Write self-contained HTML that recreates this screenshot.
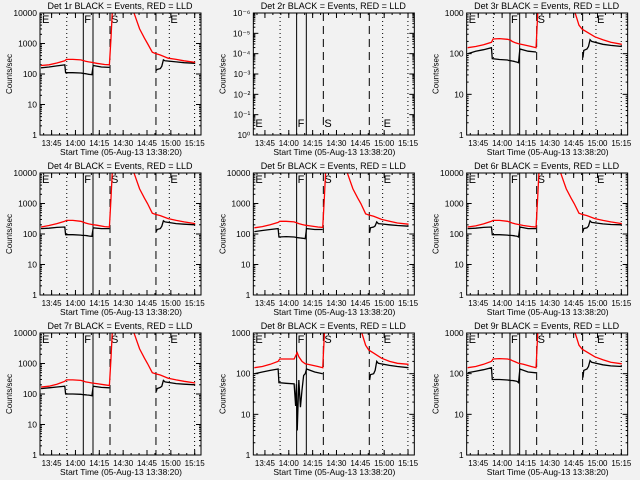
<!DOCTYPE html>
<html><head><meta charset="utf-8">
<style>
html,body{margin:0;padding:0;background:#f2f2f2;}
svg{display:block;font-family:"Liberation Sans",sans-serif;}
</style></head>
<body>
<svg id="chart" width="640" height="480" viewBox="0 0 640 480" xmlns="http://www.w3.org/2000/svg">
<rect width="640" height="480" fill="#f2f2f2"/>
</svg>
<script>
// minutes since 13:38:20
const redTimes = [0,5,10,15,16,20,25,27,28,30,32,35,40,43,44,45,46,50,55,58,60,62,65,67,70,72,75,80,85,90,97];
const blackTimes = [0,5,10,15,15.5,20,25,26,26.5,27,28,29,30,31,32,32.8,38,43,43.5,72.5,73,75,76,77,78,85,90,97];
const detNames = ["1r","2r","3r","4r","5r","6r","7r","8r","9r"];
const yMaxDecades = [4,null,3,4,4,4,4,3,3];
const red1 = [190,200,230,270,300,300,290,270,260,250,240,225,205,200,1500,15000,40000,60000,40000,12000,6000,3000,1500,1000,520,470,420,330,300,270,240];
const red3 = [140,150,165,190,230,235,225,215,200,185,175,165,150,140,900,9000,30000,50000,40000,20000,10000,5000,2000,1200,500,400,340,260,220,190,170];
const red4 = [170,190,220,260,280,280,260,240,230,215,205,195,175,170,1500,15000,40000,60000,40000,12000,6000,3000,1500,1000,480,440,400,320,280,250,220];
const red5 = [160,175,200,240,260,260,250,230,220,205,195,185,170,165,1500,15000,40000,60000,40000,12000,6000,3000,1500,1000,460,420,380,300,260,230,210];
const red6 = [170,185,215,260,280,280,260,240,230,215,205,190,175,170,1500,15000,40000,60000,40000,12000,6000,3000,1500,1000,480,440,400,320,280,250,220];
const red7 = [170,180,210,260,290,290,280,260,250,240,230,220,200,190,1500,15000,40000,60000,40000,12000,6000,3000,1500,1000,500,460,420,330,290,260,230];
const red8 = [140,150,170,200,230,230,230,330,260,200,175,165,150,140,900,9000,30000,50000,40000,20000,10000,5000,2000,1200,500,380,320,240,200,180,170];
const red9 = [140,150,170,200,230,235,230,220,210,195,180,170,150,140,900,9000,30000,50000,40000,20000,10000,5000,2000,1200,500,400,340,260,220,190,175];
const black1 = [160,170,185,200,110,110,108,106,105,104,102,100,98,96,95,190,170,165,null,130,140,150,180,290,270,250,235,225];
const black3 = [100,115,125,140,75,72,70,68,68,67,66,65,63,62,60,130,115,110,null,80,120,130,150,220,200,170,160,150];
const black4 = [150,155,165,170,95,95,92,90,90,90,89,88,86,85,84,160,150,150,null,120,140,150,180,270,250,220,210,200];
const black5 = [120,130,140,150,80,82,80,78,77,76,75,74,73,72,70,150,140,140,null,110,160,170,185,250,220,200,190,180];
const black6 = [150,155,165,170,95,95,92,90,90,90,89,88,86,85,80,170,150,150,null,120,150,160,180,270,240,215,205,200];
const black7 = [150,160,170,180,100,100,98,96,95,95,94,93,92,90,88,180,165,160,null,120,150,165,180,280,250,220,210,200];
const black8 = [100,110,120,130,60,58,56,16,55,4,70,15,40,90,100,130,110,100,null,70,95,100,120,200,180,160,150,140];
const black9 = [105,115,125,140,72,72,70,69,69,68,68,67,66,65,60,130,110,105,null,80,120,130,150,210,190,165,155,150];
const redSeries = [red1,null,red3,red4,red5,red6,red7,red8,red9];
const blackSeries = [black1,null,black3,black4,black5,black6,black7,black8,black9];
const xTickLabels = ["13:45","14:00","14:15","14:30","14:45","15:00","15:15"];
const xTickMinutes = [6.667,21.667,36.667,51.667,66.667,81.667,96.667];
const dottedMarkers = [16.2,80.7,96.6];
const solidMarkers = [26.6,32.7];
const dashedMarkers = [43.4,72.3];
const letterLabels = ["E","F","S","E"];
const letterMinutes = [0,26.6,43.4,80.7];
const panel2Labels = ["10\u207B\u2076","10\u207B\u2075","10\u207B\u2074","10\u207B\u00B3","10\u207B\u00B2","10\u207B\u00B9","10\u2070"];

const NS="http://www.w3.org/2000/svg";
const svg=document.getElementById('chart');
const L=40,R=201,T=13,B=135;
function mk(tag,attrs,parent){const e=document.createElementNS(NS,tag);for(const k in attrs)e.setAttribute(k,attrs[k]);parent.appendChild(e);return e;}
function xs(t){return 41+t*1.59;}

for(let p=0;p<9;p++){
  const ox=(p%3)*213.33, oy=Math.floor(p/3)*160;
  const g=mk('g',{transform:`translate(${ox.toFixed(2)},${oy})`},svg);
  
  
  const title=mk('text',{x:120,y:9,'font-size':9,'text-anchor':'middle',fill:'#000'},g);
  title.textContent=`Det ${detNames[p]} BLACK = Events, RED = LLD`;
  
  
  const yt=mk('text',{x:0,y:0,'font-size':8,'text-anchor':'middle',transform:`translate(12,${(T+B)/2}) rotate(-90)`},g);
  yt.textContent='Counts/sec';
  
  
  const xt=mk('text',{x:121,y:155,'font-size':8.5,'text-anchor':'middle'},g);
  xt.textContent='Start Time (05-Aug-13 13:38:20)';
  
  
  for(let i=0;i<xTickLabels.length;i++){
    const x=xs(xTickMinutes[i]);
    const tl=mk('text',{x:x,y:146,'font-size':8,'text-anchor':'middle'},g);
    tl.textContent=xTickLabels[i];
    
    
    mk('line',{x1:x,x2:x,y1:B,y2:B-5,stroke:'#000'},g);
    mk('line',{x1:x,x2:x,y1:T,y2:T+5,stroke:'#000'},g);
  }
  for(let m=1.667;m<100;m+=5){const x=xs(m);if(x>R)break;mk('line',{x1:x,x2:x,y1:B,y2:B-2,stroke:'#000'},g);mk('line',{x1:x,x2:x,y1:T,y2:T+2,stroke:'#000'},g);}
  let nd=yMaxDecades[p];
  let decs = nd===null?6:nd;
  const dpx=(B-T)/decs;
  for(let d=0;d<=decs;d++){
    const y=B-d*dpx;
    const lab = nd===null? panel2Labels[decs-d] : String(Math.pow(10,d));
    const tl=mk('text',{x:37,y:y+3,'font-size':8.5,'text-anchor':'end'},g);
    tl.textContent=lab;
    
    
    mk('line',{x1:L,x2:L+5,y1:y,y2:y,stroke:'#000'},g);
    mk('line',{x1:R-5,x2:R,y1:y,y2:y,stroke:'#000'},g);
    if(d<decs){for(let k=2;k<10;k++){const yy=y-Math.log10(k)*dpx;mk('line',{x1:L,x2:L+2,y1:yy,y2:yy,stroke:'#000'},g);mk('line',{x1:R-2,x2:R,y1:yy,y2:yy,stroke:'#000'},g);}}
  }
  const ys=v=>B-Math.log10(v)*dpx;
  dottedMarkers.forEach(t=>mk('line',{x1:xs(t),x2:xs(t),y1:T,y2:B,stroke:'#000','stroke-dasharray':'1,3'},g));
  solidMarkers.forEach(t=>mk('line',{x1:xs(t),x2:xs(t),y1:T,y2:B,stroke:'#000'},g));
  dashedMarkers.forEach(t=>mk('line',{x1:xs(t),x2:xs(t),y1:T,y2:B,stroke:'#000','stroke-dasharray':'8,5'},g));
  for(let i=0;i<letterLabels.length;i++){
    const ly = nd===null?127:23;
    const t=mk('text',{x:xs(letterMinutes[i])+1,y:ly,'font-size':11},g);
    t.textContent=letterLabels[i];
    
    
  }
  const cid='clip'+p;
  const cp=mk('clipPath',{id:cid},g);mk('rect',{x:L,y:T,width:R-L,height:B-T},cp);
  if(blackSeries[p]){
    const bs=blackSeries[p];let segs=[],cur=[];
    for(let i=0;i<blackTimes.length;i++){if(bs[i]===null){if(cur.length)segs.push(cur);cur=[];}else cur.push(xs(blackTimes[i]).toFixed(1)+','+ys(bs[i]).toFixed(1));}
    if(cur.length)segs.push(cur);
    segs.forEach(s=>{const pl=mk('polyline',{points:s.join(' '),fill:'none',stroke:'#000','stroke-width':1.3,'clip-path':`url(#${cid})`},g);
      
      });
    const rs=redSeries[p];
    const pts=redTimes.map((t,i)=>xs(t).toFixed(1)+','+ys(rs[i]).toFixed(1)).join(' ');
    const pr=mk('polyline',{points:pts,fill:'none',stroke:'#ff0000','stroke-width':1.3,'clip-path':`url(#${cid})`},g);
    
    
  }
  mk('rect',{x:L,y:T,width:R-L,height:B-T,fill:'none',stroke:'#000','stroke-width':1},g);
}
</script>
</body></html>
